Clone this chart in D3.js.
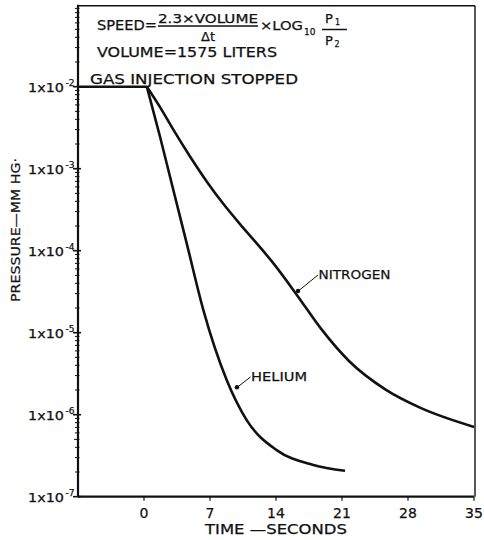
<!DOCTYPE html>
<html>
<head>
<meta charset="utf-8">
<script src="https://cdn.jsdelivr.net/npm/d3@7"></script>
<style>
  body { margin: 0; background: #fff; }
  svg text { font-family: 'DejaVu Sans', sans-serif; fill: #111; stroke: #111; stroke-width: 0.25; }
</style>
</head>
<body>
<script>
// pressure readings (mm Hg) against time (s)
const injectionTime = [-7, 0.3];
const injectionPressure = [1e-2, 1e-2];

const heliumTime = [0.3, 1.7, 3.11, 4.53, 6.29, 8.77, 10.89, 14.07, 17.96, 21.32];
const heliumPressure = [1e-2, 2.45e-3, 5.5e-4, 1.23e-4, 1.9e-5, 2.65e-6, 8.6e-7, 3.7e-7, 2.44e-7, 2.07e-7];

const nitrogenTime = [0.3, 1.7, 3.11, 4.88, 6.65, 8.41, 10.18, 11.95, 13.71, 16.23, 18.77, 21.74, 25.67, 29.27, 35];
const nitrogenPressure = [1e-2, 5.64e-3, 2.99e-3, 1.41e-3, 7.0e-4, 3.73e-4, 2.11e-4, 1.23e-4, 7.05e-5, 2.87e-5, 1.12e-5, 4.52e-6, 2.01e-6, 1.22e-6, 7.1e-7];

const timeTicks = [0, 7, 14, 21, 28, 35];
const decadeExps = [-7, -6, -5, -4, -3, -2];

// curve labels: arrow point on the curve and leader end, in data units
const labelNames = ['NITROGEN', 'HELIUM'];
const labelPointT = [16.23, 9.75];
const labelPointP = [3.13e-5, 2.1e-6];
const labelLeaderT = [18.45, 11.3];
const labelLeaderP = [5.05e-5, 2.88e-6];
const labelWidths = [72, 56];

const W = 484, H = 540;
const svg = d3.select('body').append('svg').attr('width', W).attr('height', H);

const x = d3.scaleLinear().domain([-7, 35]).range([78, 474]);
const y = d3.scaleLog().domain([1e-7, 1e-1]).range([496.7, 4.7]);

// frame
svg.append('line').attr('x1', x(-7)).attr('x2', x(-7)).attr('y1', y(1e-1)).attr('y2', y(1e-7))
    .attr('stroke', '#111').attr('stroke-width', 2.2);
svg.append('line').attr('x1', x(-7)).attr('x2', x(35)).attr('y1', y(1e-7)).attr('y2', y(1e-7))
    .attr('stroke', '#111').attr('stroke-width', 2.2);
svg.append('line').attr('x1', x(-7)).attr('x2', x(35) + 1).attr('y1', y(1e-1) + 1).attr('y2', y(1e-1) + 1)
    .attr('stroke', '#111').attr('stroke-width', 1.6);
svg.append('line').attr('x1', x(35) + 1).attr('x2', x(35) + 1).attr('y1', y(1e-1) + 1).attr('y2', y(1e-7))
    .attr('stroke', '#111').attr('stroke-width', 1.4);

// log ticks on the left axis
const minor = [];
for (let e = -7; e < -1; e++) for (let m = 2; m <= 9; m++) minor.push(m * Math.pow(10, e));
svg.append('g').selectAll('line').data(minor).join('line')
    .attr('x1', d => x(-7) - (String(d).startsWith('5') ? 4 : 3))
    .attr('x2', x(-7) + 1.5)
    .attr('y1', d => y(d)).attr('y2', d => y(d))
    .attr('stroke', '#111').attr('stroke-width', 1);
svg.append('g').selectAll('line').data(decadeExps).join('line')
    .attr('x1', x(-7) - 5).attr('x2', x(-7) + 3)
    .attr('y1', d => y(Math.pow(10, d))).attr('y2', d => y(Math.pow(10, d)))
    .attr('stroke', '#111').attr('stroke-width', 1.6);

const yLab = svg.append('g').selectAll('g').data(decadeExps).join('g');
yLab.append('text')
    .attr('x', 28).attr('y', d => y(Math.pow(10, d)) + 5)
    .attr('font-size', 12).attr('textLength', 36).attr('lengthAdjust', 'spacingAndGlyphs')
    .text('1x10');
yLab.append('text')
    .attr('x', 65.5).attr('y', d => y(Math.pow(10, d)) - 1)
    .attr('font-size', 9)
    .text(d => '-' + (-d));

// x axis ticks
svg.append('g').selectAll('line').data(timeTicks).join('line')
    .attr('x1', d => x(d)).attr('x2', d => x(d))
    .attr('y1', y(1e-7)).attr('y2', y(1e-7) + 4)
    .attr('stroke', '#111').attr('stroke-width', 1.2);
svg.append('g').selectAll('text').data(timeTicks).join('text')
    .attr('x', d => x(d)).attr('y', 518)
    .attr('text-anchor', 'middle').attr('font-size', 14)
    .text(d => d);

// axis titles
svg.append('text').attr('x', 205).attr('y', 534).attr('font-size', 14)
    .attr('textLength', 142).attr('lengthAdjust', 'spacingAndGlyphs')
    .text('TIME —SECONDS');
svg.append('text')
    .attr('transform', 'translate(20,230) rotate(-90)')
    .attr('text-anchor', 'middle').attr('font-size', 13)
    .attr('textLength', 144).attr('lengthAdjust', 'spacingAndGlyphs')
    .text('PRESSURE—MM HG·');

// formula block
const note = svg.append('g');
note.append('text').attr('x', 97).attr('y', 30).attr('font-size', 14)
    .attr('textLength', 60).attr('lengthAdjust', 'spacingAndGlyphs').text('SPEED=');
note.append('text').attr('x', 158).attr('y', 23).attr('font-size', 12)
    .attr('textLength', 100).attr('lengthAdjust', 'spacingAndGlyphs').text('2.3×VOLUME');
note.append('line').attr('x1', 158).attr('x2', 258).attr('y1', 26).attr('y2', 26)
    .attr('stroke', '#111').attr('stroke-width', 1.5);
note.append('text').attr('x', 208).attr('y', 40.5).attr('font-size', 13)
    .attr('text-anchor', 'middle').text('Δt');
note.append('text').attr('x', 260).attr('y', 30).attr('font-size', 13)
    .attr('textLength', 43).attr('lengthAdjust', 'spacingAndGlyphs').text('×LOG');
note.append('text').attr('x', 304).attr('y', 35).attr('font-size', 9).text('10');
note.append('text').attr('x', 325).attr('y', 22.5).attr('font-size', 13).text('P');
note.append('text').attr('x', 335).attr('y', 25).attr('font-size', 8).text('1');
note.append('line').attr('x1', 322).attr('x2', 347).attr('y1', 29.5).attr('y2', 29.5)
    .attr('stroke', '#111').attr('stroke-width', 1.5);
note.append('text').attr('x', 325).attr('y', 45).attr('font-size', 13).text('P');
note.append('text').attr('x', 334.5).attr('y', 47).attr('font-size', 8).text('2');
note.append('text').attr('x', 97).attr('y', 57).attr('font-size', 14)
    .attr('textLength', 180).attr('lengthAdjust', 'spacingAndGlyphs').text('VOLUME=1575 LITERS');
note.append('text').attr('x', 90).attr('y', 83.5).attr('font-size', 14)
    .attr('textLength', 208).attr('lengthAdjust', 'spacingAndGlyphs').text('GAS INJECTION STOPPED');

// curves
const line = d3.line().x(d => x(d[0])).y(d => y(d[1])).curve(d3.curveMonotoneX);
const series = [
    d3.zip(injectionTime, injectionPressure),
    d3.zip(heliumTime, heliumPressure),
    d3.zip(nitrogenTime, nitrogenPressure),
];
svg.append('g').selectAll('path').data(series).join('path')
    .attr('d', line)
    .attr('fill', 'none').attr('stroke', '#111')
    .attr('stroke-width', 2.6).attr('stroke-linejoin', 'round');

// curve labels with leaders
labelNames.forEach((name, i) => {
    const px = x(labelPointT[i]), py = y(labelPointP[i]);
    const lx = x(labelLeaderT[i]), ly = y(labelLeaderP[i]);
    svg.append('line').attr('x1', lx).attr('y1', ly).attr('x2', px).attr('y2', py)
        .attr('stroke', '#111').attr('stroke-width', 1);
    svg.append('circle').attr('cx', px + 1).attr('cy', py - 1).attr('r', 2.2).attr('fill', '#111');
    svg.append('text').attr('x', lx + 0.5).attr('y', ly + 3.5).attr('font-size', 13)
        .attr('textLength', labelWidths[i]).attr('lengthAdjust', 'spacingAndGlyphs')
        .text(name);
});
</script>
</body>
</html>
